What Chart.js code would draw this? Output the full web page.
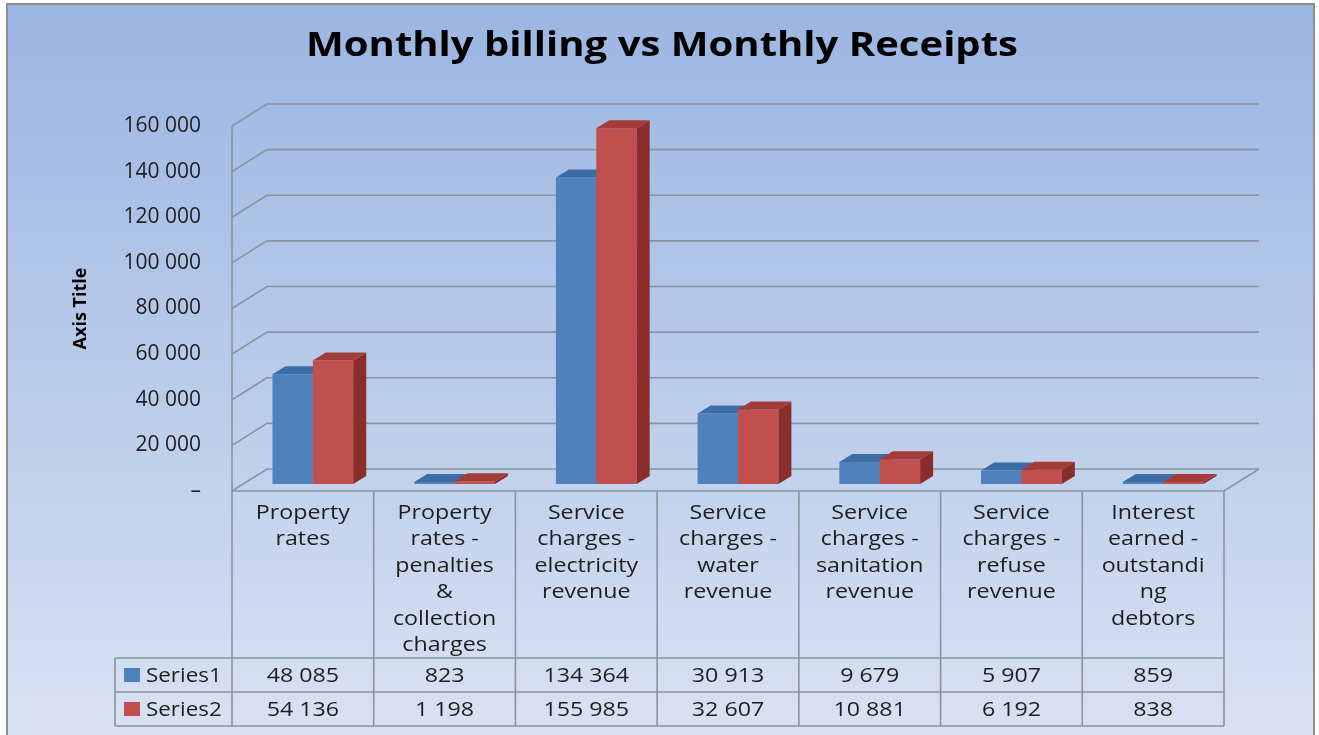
<!DOCTYPE html>
<html>
<head>
<meta charset="utf-8">
<title>Monthly billing vs Monthly Receipts</title>
<script src="https://cdn.jsdelivr.net/npm/chart.js@4.4.1/dist/chart.umd.min.js"></script>
<style>
  html, body { margin: 0; padding: 0; background: #fff; }
  #wrap { width: 1319px; height: 735px; }
</style>
</head>
<body>
<div id="wrap"><canvas id="billing-chart" width="1319" height="735"></canvas></div>
<script>
// chart data
var chartTitle = "Monthly billing vs Monthly Receipts";
var categories = [
    ["Property", "rates"],
    ["Property", "rates -", "penalties", "&", "collection", "charges"],
    ["Service", "charges -", "electricity", "revenue"],
    ["Service", "charges -", "water", "revenue"],
    ["Service", "charges -", "sanitation", "revenue"],
    ["Service", "charges -", "refuse", "revenue"],
    ["Interest", "earned -", "outstandi", "ng", "debtors"]
];
var seriesNames = ["Series1", "Series2"];
var series1 = [48085, 823, 134364, 30913, 9679, 5907, 859];
var series2 = [54136, 1198, 155985, 32607, 10881, 6192, 838];
var yTickValues = [0, 20000, 40000, 60000, 80000, 100000, 120000, 140000, 160000];
var yTickLabels = ["\u2013", "20 000", "40 000", "60 000", "80 000", "100 000", "120 000", "140 000", "160 000"];

var seriesColors = ["#4f81bd", "#c0504d"];
var topColors = ["#3e6ca4", "#a33b38"];
var sideColors = ["#34598a", "#8a2d2b"];

// 3d look
var WALL_DX = 35, WALL_DY = -22;
var BAR_DX = 10, BAR_DY = -7;
var BAR_DEPTH_X = 13, BAR_DEPTH_Y = -8;
var LINE_COLOR = "#8a949f";
var TEXT_COLOR = "#1e1e1e";

function fmt(v) {
    return String(v).replace(/\B(?=(\d{3})+(?!\d))/g, " ");
}

// text a bit wider than the font, like the original
function wideText(c, txt, x, y, sx) {
    c.save();
    c.translate(x, y);
    c.scale(sx, 1);
    c.fillText(txt, 0, 0);
    c.restore();
}

Chart.defaults.font.family = "'Open Sans', sans-serif";

var threeD = {
    id: 'threeD',
    beforeDraw: function(chart) {
        var c = chart.ctx, a = chart.chartArea, y = chart.scales.y;
        // frame + background
        var g = c.createLinearGradient(0, 4, 0, 735);
        g.addColorStop(0, '#9bb5e2');
        g.addColorStop(0.55, '#bccdeb');
        g.addColorStop(1, '#d8e2f2');
        c.save();
        c.fillStyle = g;
        c.fillRect(7, 4, 1307, 735);
        c.strokeStyle = '#8f8f8f';
        c.lineWidth = 2;
        c.beginPath();
        c.moveTo(7, 740); c.lineTo(7, 4); c.lineTo(1314, 4); c.lineTo(1314, 740);
        c.stroke();

        // title
        c.fillStyle = '#000';
        c.font = "bold 34px 'Open Sans', sans-serif";
        c.textBaseline = 'middle';
        c.textAlign = 'center';
        var tw = c.measureText(chartTitle).width;
        wideText(c, chartTitle, 662, 46, 712 / tw);

        // back wall grid
        c.strokeStyle = LINE_COLOR;
        c.lineWidth = 1.6;
        yTickValues.forEach(function(v) {
            var py = y.getPixelForValue(v);
            c.beginPath();
            c.moveTo(a.left, py);
            c.lineTo(a.left + WALL_DX, py + WALL_DY);
            c.lineTo(a.right + WALL_DX, py + WALL_DY);
            c.stroke();
        });
        // floor
        c.beginPath();
        c.moveTo(a.left, a.bottom);
        c.lineTo(a.right, a.bottom);
        c.lineTo(a.right + WALL_DX, a.bottom + WALL_DY);
        c.stroke();
        // front axis line
        c.beginPath();
        c.moveTo(a.left, a.top);
        c.lineTo(a.left, a.bottom);
        c.stroke();
        c.restore();
    },
    // bars: front face by the element itself, then side and top, series1 first
    beforeDatasetsDraw: function(chart) {
        var c = chart.ctx;
        c.save();
        c.translate(BAR_DX, BAR_DY);
        for (var i = 0; i < chart.data.datasets.length; i++) {
            chart.getDatasetMeta(i).data.forEach(function(bar) {
                bar.draw(c, chart.chartArea);
                var l = bar.x - bar.width / 2, r = bar.x + bar.width / 2;
                var t = bar.y, b = bar.base;
                c.fillStyle = sideColors[i];
                c.beginPath();
                c.moveTo(r, t);
                c.lineTo(r + BAR_DEPTH_X, t + BAR_DEPTH_Y);
                c.lineTo(r + BAR_DEPTH_X, b + BAR_DEPTH_Y);
                c.lineTo(r, b);
                c.closePath();
                c.fill();
                c.fillStyle = topColors[i];
                c.beginPath();
                c.moveTo(l, t);
                c.lineTo(l + BAR_DEPTH_X, t + BAR_DEPTH_Y);
                c.lineTo(r + BAR_DEPTH_X, t + BAR_DEPTH_Y);
                c.lineTo(r, t);
                c.closePath();
                c.fill();
            });
        }
        c.restore();
        return false;
    },
    afterDraw: function(chart) {
        // data table under the plot
        var c = chart.ctx, a = chart.chartArea;
        var n = categories.length;
        var colW = (a.right - a.left) / n;
        var rowTop = 658, rowMid = 692, rowBot = 726, legendLeft = 115;
        c.save();
        c.strokeStyle = LINE_COLOR;
        c.lineWidth = 1.6;
        c.beginPath();
        for (var k = 0; k <= n; k++) {
            var ex = a.left + k * colW;
            c.moveTo(ex, a.bottom);
            c.lineTo(ex, rowBot);
        }
        [rowTop, rowMid, rowBot].forEach(function(ry) {
            c.moveTo(legendLeft, ry);
            c.lineTo(a.right, ry);
        });
        c.moveTo(legendLeft, rowTop);
        c.lineTo(legendLeft, rowBot);
        c.stroke();

        c.fillStyle = TEXT_COLOR;
        c.font = "20px 'Open Sans', sans-serif";
        c.textAlign = 'center';
        c.textBaseline = 'middle';
        categories.forEach(function(lines, idx) {
            var cx = a.left + (idx + 0.5) * colW;
            lines.forEach(function(txt, li) {
                wideText(c, txt, cx, 513 + li * 26.5, 1.16);
            });
            wideText(c, fmt(series1[idx]), cx, (rowTop + rowMid) / 2 + 1, 1.16);
            wideText(c, fmt(series2[idx]), cx, (rowMid + rowBot) / 2 + 1, 1.16);
        });
        c.textAlign = 'left';
        seriesNames.forEach(function(name, si) {
            var cy = si === 0 ? (rowTop + rowMid) / 2 : (rowMid + rowBot) / 2;
            c.fillStyle = seriesColors[si];
            c.fillRect(124, cy - 7, 16, 14);
            c.fillStyle = TEXT_COLOR;
            wideText(c, name, 146, cy + 1, 1.12);
        });
        c.restore();
    }
};

var ctx = document.getElementById('billing-chart').getContext('2d');
var chart = new Chart(ctx, {
    type: 'bar',
    data: {
        labels: categories,
        datasets: [{
            label: seriesNames[0],
            data: series1,
            backgroundColor: seriesColors[0]
        }, {
            label: seriesNames[1],
            data: series2,
            backgroundColor: seriesColors[1]
        }]
    },
    options: {
        responsive: false,
        animation: false,
        devicePixelRatio: 1,
        categoryPercentage: 0.57,
        barPercentage: 1,
        layout: { padding: { left: 66, top: 126, right: 95, bottom: 244 } },
        plugins: {
            legend: { display: false },
            tooltip: { enabled: false },
            title: { display: false }
        },
        scales: {
            x: { display: false },
            y: {
                min: 0,
                max: 160000,
                afterFit: function(scale) { scale.width = 232 - 66; },
                afterBuildTicks: function(scale) {
                    scale.ticks = yTickValues.map(function(v) { return { value: v }; });
                },
                grid: { display: false, drawTicks: false },
                border: { display: false },
                ticks: {
                    padding: 31,
                    color: TEXT_COLOR,
                    font: { size: 21 },
                    callback: function(value, index) { return yTickLabels[index]; }
                },
                title: {
                    display: true,
                    text: 'Axis Title',
                    color: '#000',
                    font: { size: 18, weight: 'bold' }
                }
            }
        }
    },
    plugins: [threeD]
});
</script>
</body>
</html>
